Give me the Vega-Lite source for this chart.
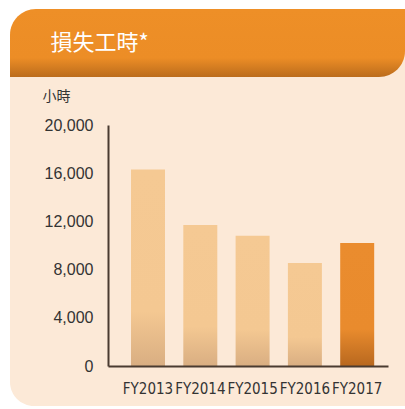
{
  "$schema": "https://vega.github.io/schema/vega-lite/v6.json",
  "background": "white",
  "padding": {"left": 10, "top": 9, "right": 0, "bottom": 3},
  "config": {"view": {"stroke": null}},
  "spacing": 0,
  "vconcat": [
    {
      "width": 395,
      "height": 68,
      "data": {"values": [{"title": "損失工時*"}]},
      "layer": [
        {
          "mark": {"type": "rect", "cornerRadiusTopLeft": 26, "color": "#FCE9D7"},
          "encoding": {}
        },
        {
          "mark": {
            "type": "rect",
            "cornerRadiusTopLeft": 26,
            "cornerRadiusBottomRight": 26,
            "color": {"gradient": "linear", "x1": 0, "y1": 0, "x2": 0, "y2": 1,
              "stops": [{"offset": 0, "color": "#EE8F27"}, {"offset": 0.72, "color": "#EC8D26"}, {"offset": 1, "color": "#BB6C1C"}]}
          },
          "encoding": {}
        },
        {
          "mark": {"type": "text", "align": "left", "baseline": "middle", "dx": -157, "color": "white", "fontSize": 22, "font": "Noto Sans CJK TC"},
          "encoding": {"text": {"field": "title"}}
        }
      ]
    },
    {
      "width": 395,
      "height": 329,
      "layer": [
        {
          "data": {"values": [{}]},
          "mark": {"type": "rect", "cornerRadiusBottomLeft": 24, "color": "#FCE9D7"},
          "encoding": {}
        },
        {
          "data": {"values": [
            {"year": "FY2013", "hours": 16300},
            {"year": "FY2014", "hours": 11700},
            {"year": "FY2015", "hours": 10800},
            {"year": "FY2016", "hours": 8550},
            {"year": "FY2017", "hours": 10200}
          ]},
          "mark": {"type": "bar"},
          "encoding": {
            "x": {
              "field": "year", "type": "nominal", "sort": null,
              "scale": {"range": [98, 378], "paddingInner": 0.35, "paddingOuter": 0.352, "align": 0.625},
              "axis": {"title": null, "labelAngle": 0, "ticks": false, "offset": -40, "zindex": 1,
                "domainColor": "#4A3B30", "domainWidth": 2, "labelPadding": 15,
                "labelFont": "DejaVu Sans Condensed", "labelFontSize": 15, "labelColor": "#333333"}
            },
            "y": {
              "field": "hours", "type": "quantitative",
              "scale": {"domain": [0, 20000], "nice": false, "range": [289, 48]},
              "axis": {
                "values": [0, 4000, 8000, 12000, 16000, 20000], "format": ",d", "grid": false, "ticks": false,
                "offset": -98, "minExtent": 0, "zindex": 1,
                "domainColor": "#4A3B30", "domainWidth": 2, "labelPadding": 15, "labelFontSize": 16,
                "labelFont": "Liberation Sans", "labelColor": "#333333",
                "title": "小時", "titleAngle": 0, "titleAlign": "left", "titleBaseline": "top", "titleX": -66, "titleY": 12,
                "titleFont": "Noto Sans CJK TC", "titleFontSize": 14, "titleFontWeight": "normal", "titleColor": "#333333"
              }
            },
            "color": {
              "condition": {
                "test": "datum.year === 'FY2017'",
                "value": {"gradient": "linear", "x1": 0, "y1": 0, "x2": 0, "y2": 1,
                  "stops": [{"offset": 0, "color": "#EA8C2E"}, {"offset": 0.7, "color": "#E98B2D"}, {"offset": 1, "color": "#B8681F"}]}
              },
              "value": {"gradient": "linear", "x1": 0, "y1": 0, "x2": 0, "y2": 1,
                "stops": [{"offset": 0, "color": "#F5C993"}, {"offset": 0.72, "color": "#F4C892"}, {"offset": 1, "color": "#D9AE82"}]}
            }
          }
        }
      ]
    }
  ]
}
